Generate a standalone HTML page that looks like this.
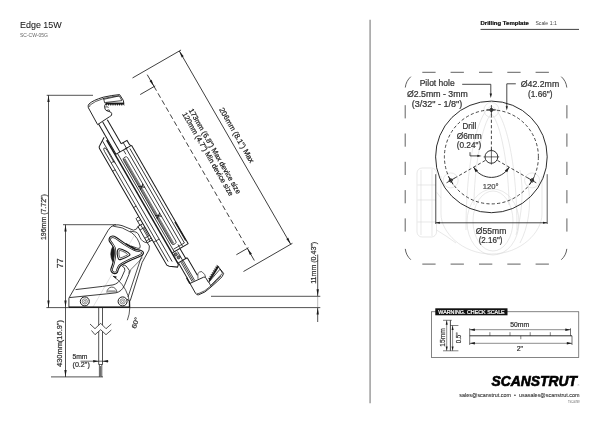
<!DOCTYPE html>
<html lang="en"><head><meta charset="utf-8"><title>Edge 15W – Drilling Template</title>
<style>
html,body{margin:0;padding:0;background:#fff;}
svg{display:block;will-change:transform;}
text{font-family:"Liberation Sans",Arial,sans-serif;}
</style></head>
<body>
<svg width="600" height="424" viewBox="0 0 600 424">
<rect width="600" height="424" fill="#fff"/>
<text x="20" y="27.5" font-size="8.9" fill="#1a1a1a" textLength="41.7" lengthAdjust="spacingAndGlyphs" stroke="#1a1a1a" stroke-width="0.08" >Edge 15W</text>
<text x="20" y="36.8" font-size="4.7" fill="#666" textLength="28" lengthAdjust="spacingAndGlyphs" >SC-CW-05G</text>
<line x1="370.1" y1="19.8" x2="370.1" y2="403.3" stroke="#a9a9a9" stroke-width="1.7" />
<text x="480.5" y="25.2" font-size="5.9" fill="#111" font-weight="bold" textLength="48.3" lengthAdjust="spacingAndGlyphs" stroke="#111" stroke-width="0.22" >Drilling Template</text>
<text x="535.4" y="25.2" font-size="5.6" fill="#444" textLength="21.4" lengthAdjust="spacingAndGlyphs" >Scale 1:1</text>
<line x1="480.5" y1="29.4" x2="579" y2="29.4" stroke="#2a2a2a" stroke-width="0.9" />
<line x1="46.7" y1="95.3" x2="93" y2="95.3" stroke="#1a1a1a" stroke-width="0.75" />
<line x1="48.5" y1="95.3" x2="48.5" y2="307.6" stroke="#1a1a1a" stroke-width="0.75" />
<polygon points="48.50,95.30 49.65,102.10 47.35,102.10" fill="#1a1a1a"/>
<polygon points="48.50,307.40 47.35,300.60 49.65,300.60" fill="#1a1a1a"/>
<text x="46.0" y="240" font-size="7.0" fill="#333" textLength="45.8" lengthAdjust="spacingAndGlyphs" transform="rotate(-90 46.0 240)" stroke="#333" stroke-width="0.22" >196mm (7.72")</text>
<line x1="46.4" y1="307.6" x2="320.3" y2="307.6" stroke="#1a1a1a" stroke-width="0.75" />
<line x1="63" y1="224.7" x2="116" y2="224.7" stroke="#1a1a1a" stroke-width="0.75" />
<line x1="65.5" y1="224.7" x2="65.5" y2="307.6" stroke="#1a1a1a" stroke-width="0.75" />
<polygon points="65.50,224.70 66.65,231.50 64.35,231.50" fill="#1a1a1a"/>
<polygon points="65.50,307.40 64.35,300.60 66.65,300.60" fill="#1a1a1a"/>
<text x="63.2" y="268.2" font-size="9" fill="#333" textLength="9.9" lengthAdjust="spacingAndGlyphs" transform="rotate(-90 63.2 268.2)" stroke="#333" stroke-width="0.22" >77</text>
<line x1="65.5" y1="307.6" x2="65.5" y2="376.9" stroke="#1a1a1a" stroke-width="0.75" />
<polygon points="65.50,376.90 64.35,370.10 66.65,370.10" fill="#1a1a1a"/>
<line x1="51" y1="376.9" x2="103" y2="376.9" stroke="#1a1a1a" stroke-width="0.75" />
<text x="61.5" y="367" font-size="7.3" fill="#333" textLength="47" lengthAdjust="spacingAndGlyphs" transform="rotate(-90 61.5 367)" stroke="#333" stroke-width="0.22" >430mm(16.9")</text>
<line x1="98.7" y1="307" x2="98.7" y2="364.5" stroke="#1a1a1a" stroke-width="0.75" />
<line x1="102.5" y1="307" x2="102.5" y2="364.5" stroke="#1a1a1a" stroke-width="0.75" />
<path d="M98.7,364.5 H102.5 M99.4,364.5 V376.8 M101.8,364.5 V376.8 M100.6,366 V376.5" stroke="#1a1a1a" stroke-width="0.7" fill="none" />
<polygon points="90,324 95,328.7 100.7,323.3 106,328.7 111.3,324 111.3,330 106,334.7 100.7,329.7 95,334.7 90.5,330" fill="#fff"/>
<path d="M90,324 L95,328.7 L100.7,323.3 L106,328.7 L111.3,324" stroke="#1a1a1a" stroke-width="0.75" fill="none" />
<path d="M91.5,330.5 L95,334.7 L100.7,329.7 L106,334.7 L111.3,330" stroke="#1a1a1a" stroke-width="0.75" fill="none" />
<line x1="80.5" y1="361.2" x2="108.5" y2="361.2" stroke="#1a1a1a" stroke-width="0.65" />
<polygon points="98.70,361.20 93.20,362.40 93.20,360.00" fill="#1a1a1a"/>
<polygon points="102.50,361.20 108.00,360.00 108.00,362.40" fill="#1a1a1a"/>
<text x="72.5" y="358.8" font-size="6.8" fill="#333" textLength="15" lengthAdjust="spacingAndGlyphs" stroke="#333" stroke-width="0.22" >5mm</text>
<text x="72.5" y="367" font-size="7.0" fill="#333" textLength="17.3" lengthAdjust="spacingAndGlyphs" stroke="#333" stroke-width="0.22" >(0.2")</text>
<line x1="211" y1="296.3" x2="320.3" y2="296.3" stroke="#1a1a1a" stroke-width="0.75" />
<line x1="317.7" y1="254.5" x2="317.7" y2="296.3" stroke="#1a1a1a" stroke-width="0.75" />
<line x1="317.7" y1="307.6" x2="317.7" y2="322" stroke="#1a1a1a" stroke-width="0.75" />
<line x1="317.7" y1="296.3" x2="317.7" y2="307.6" stroke="#777" stroke-width="0.5" />
<polygon points="317.70,296.10 316.55,289.30 318.85,289.30" fill="#1a1a1a"/>
<polygon points="317.70,307.80 318.85,314.60 316.55,314.60" fill="#1a1a1a"/>
<text x="316.0" y="283.8" font-size="7.0" fill="#333" textLength="42" lengthAdjust="spacingAndGlyphs" transform="rotate(-90 316.0 283.8)" stroke="#333" stroke-width="0.22" >11mm (0.43")</text>
<g transform="translate(179.3,51) rotate(60.04)">
<line x1="0" y1="0" x2="223.1" y2="0" stroke="#1a1a1a" stroke-width="0.75" />
<polygon points="0.00,0.00 6.80,-1.15 6.80,1.15" fill="#1a1a1a"/>
<polygon points="223.10,0.00 216.30,1.15 216.30,-1.15" fill="#1a1a1a"/>
<line x1="0" y1="-2" x2="0" y2="54" stroke="#1a1a1a" stroke-width="0.75" />
<line x1="223.1" y1="-2" x2="223.1" y2="54.5" stroke="#1a1a1a" stroke-width="0.75" />
<text x="70.4" y="-5.2" font-size="7.5" fill="#222" textLength="62.3" lengthAdjust="spacingAndGlyphs" stroke="#222" stroke-width="0.22" >206mm (8.1") Max</text>
<line x1="17.9" y1="39.6" x2="205.2" y2="39.6" stroke="#1a1a1a" stroke-width="0.75" stroke-dasharray="5.1 3.0"/>
<line x1="4.5" y1="39.6" x2="18.2" y2="39.6" stroke="#1a1a1a" stroke-width="0.75" />
<polygon points="17.90,39.60 11.10,40.75 11.10,38.45" fill="#1a1a1a"/>
<line x1="205.0" y1="39.6" x2="219" y2="39.6" stroke="#1a1a1a" stroke-width="0.75" />
<polygon points="205.20,39.60 212.00,38.45 212.00,40.75" fill="#1a1a1a"/>
<line x1="18.2" y1="38.3" x2="18.2" y2="55.6" stroke="#1a1a1a" stroke-width="0.75" />
<line x1="205.0" y1="38.3" x2="205.0" y2="52.3" stroke="#1a1a1a" stroke-width="0.75" />
<text x="55.8" y="21.7" font-size="7.3" fill="#222" textLength="97.2" lengthAdjust="spacingAndGlyphs" stroke="#222" stroke-width="0.22" >173mm (6.8") Max device size</text>
<text x="55.8" y="29.2" font-size="7.3" fill="#222" textLength="95.4" lengthAdjust="spacingAndGlyphs" stroke="#222" stroke-width="0.22" >120mm (4.7") Min device size</text>
</g>
<g transform="translate(100,100) rotate(60)" fill="none" stroke-linecap="butt">
<line x1="20" y1="13.2" x2="55" y2="13.2" stroke="#1a1a1a" stroke-width="1.0" />
<line x1="20.5" y1="8.7" x2="55" y2="8.7" stroke="#1a1a1a" stroke-width="1.0" />
<line x1="20.7" y1="3.5" x2="48.5" y2="3.5" stroke="#1a1a1a" stroke-width="1.0" />
<path d="M55,2.9 V-0.5 M48.5,3.5 V-3.2 H53.5 L55.5,-4.4" stroke="#1a1a1a" stroke-width="1.0" fill="none" />
<path d="M48.5,1.2 H55" stroke="#1a1a1a" stroke-width="0.78" fill="none" />
<path d="M55,13.6 V-4.5" stroke="#1a1a1a" stroke-width="1.0" fill="none" />
<path d="M55.3,-4.6 H168.5" stroke="#1a1a1a" stroke-width="1.0" fill="none" />
<path d="M57,-1.6 H166" stroke="#1a1a1a" stroke-width="0.78" fill="none" />
<path d="M55,1.6 H168" stroke="#1a1a1a" stroke-width="0.78" fill="none" />
<path d="M55,4.7 H60 M168,4.7 H164" stroke="#1a1a1a" stroke-width="0.72" fill="none" />
<path d="M143,-4 H164.5" stroke="#1a1a1a" stroke-width="1.3" fill="none" />
<path d="M168.5,-4.6 V13.6" stroke="#1a1a1a" stroke-width="1.0" fill="none" />
<path d="M166,-1.6 V11" stroke="#1a1a1a" stroke-width="0.72" fill="none" />
<path d="M38,14.2 H181.3" stroke="#1a1a1a" stroke-width="1.5" fill="none" />
<path d="M55,11.6 H168" stroke="#1a1a1a" stroke-width="0.78" fill="none" />
<path d="M64,4.9 H160 Q162,4.9 162,6.5 V8.2 Q162,9.8 160,9.8 H64 Q62,9.8 62,8.2 V6.5 Q62,4.9 64,4.9 Z" stroke="#1a1a1a" stroke-width="0.72" fill="none" />
<path d="M63,7.7 H161 M63,8.45 H161 M63,9.2 H161" stroke="#1a1a1a" stroke-width="0.52" fill="none" />
<path d="M94,4.6 L98,10 M98,4.6 L94,10 M127.5,4.6 L131.5,10 M131.5,4.6 L127.5,10" stroke="#1a1a1a" stroke-width="1.05" fill="none" />
<path d="M34.3,15 L39.5,23.2 Q40.3,24.7 42,24.7 H176.5 L178.5,23.2 L183.5,16.4 L181.3,14" stroke="#1a1a1a" stroke-width="1.0" fill="none" />
<path d="M37,18.3 H176" stroke="#1a1a1a" stroke-width="0.78" fill="none" />
<path d="M47,21.8 H174 M47,21.8 Q43.6,21.8 43.6,20.4 Q43.6,19 47,19 H62" stroke="#1a1a1a" stroke-width="0.75" fill="none" />
<path d="M60,18.3 V21.6 M68,21.6 V24.7 M110,21.6 V24.7 M150,18.3 V24.7" stroke="#1a1a1a" stroke-width="0.72" fill="none" />
<path d="M168.5,5 H180.2 V13.6" stroke="#1a1a1a" stroke-width="1.0" fill="none" />
<circle cx="171.6" cy="11.6" r="1.6" stroke="#1a1a1a" stroke-width="0.6" fill="#777"/>
<circle cx="175.6" cy="10.6" r="1.6" stroke="#1a1a1a" stroke-width="0.6" fill="#777"/>
<path d="M170,8.6 H180" stroke="#1a1a1a" stroke-width="0.78" fill="none" />
<path d="M180.2,3.3 H200.5 M180.2,3.3 V5" stroke="#1a1a1a" stroke-width="1.0" fill="none" />
<path d="M180.2,8.2 H203.6 M180.2,9.6 H203.6 M180.2,11 H203.4" stroke="#1a1a1a" stroke-width="0.72" fill="none" />
<path d="M181,13.5 H198" stroke="#1a1a1a" stroke-width="1.0" fill="none" />
<path d="M197.5,13.9 H204" stroke="#1a1a1a" stroke-width="1.5" fill="none" />
</g>
<path d="M97.6,124.6 L88.4,107.8 Q87.6,105.6 89,104 Q93,100.2 103.3,97.2 Q112,95.2 119.6,94.6 L123.4,100.5 L123.8,103.5" stroke="#1a1a1a" stroke-width="0.95" fill="none" />
<path d="M89.6,106.9 Q89.4,105.7 90.4,104.8 Q94.2,101.4 103.6,98.5 Q112,96.4 119.0,95.9" stroke="#1a1a1a" stroke-width="0.72" fill="none" />
<path d="M123.8,103.5 H106 Q104.2,105.4 104.6,107.5 Q105,110.2 107,110.8 L110.6,112 Q112.2,113.4 111.6,115 Q111,116.2 109.4,116.8 L97.6,124.6" stroke="#1a1a1a" stroke-width="0.95" fill="none" />
<path d="M103.4,98.0 L104.8,103.2 M103.7,99.3 L119.3,95.9 L121.9,100.6 L105.3,102.5" stroke="#1a1a1a" stroke-width="0.78" fill="none" />
<path d="M105.6,102.8 L123.9,102.8 L124.2,105.4 L122.9,103.9 L121.8,105.6 L120.7,103.9 L119.6,105.6 L118.5,103.9 L117.4,105.6 L116.3,103.9 L115.2,105.6 L114.1,103.9 L113.0,105.6 L111.9,103.9 L110.8,105.6 L109.7,103.9 L108.6,105.6 L107.5,103.9 L106.4,105.6 L105.9,104 Z" stroke="#1a1a1a" stroke-width="0.3" fill="#1a1a1a" />
<path d="M105.2,107.2 Q107,106.2 108.6,107.4 M106.6,110.6 Q108.4,109.2 110,110.6" stroke="#1a1a1a" stroke-width="0.78" fill="none" />
<path d="M187.2,278.4 L195.6,293.4 Q196.6,295.2 198.6,294.8 Q205,293 211,287 Q218,281 222.2,276.6 L223.6,273.4 L218.2,266.6" stroke="#1a1a1a" stroke-width="0.95" fill="none" />
<path d="M196.6,293.2 Q197.6,293.8 199,293.4 Q205,291.6 210.4,286.2 Q217,280.4 221.2,275.8" stroke="#1a1a1a" stroke-width="0.72" fill="none" />
<path d="M218.2,266.6 L209.4,280.6 Q209.6,282.4 208.4,282.2 L206,278.2 Q205.4,276.6 203.6,277.2 L190,283.4" stroke="#1a1a1a" stroke-width="0.95" fill="none" />
<path d="M198,278.8 L197.8,273.6 Q199.6,271.2 201.8,271.6 L204.6,274.4 L205.6,277" stroke="#1a1a1a" stroke-width="0.7" fill="none" />
<path d="M208.8,282 L211,286.4 M209.9,280.9 L220.1,269.1 L222.5,273.2 L210.7,285.5" stroke="#1a1a1a" stroke-width="0.78" fill="none" />
<path d="M218.99,266.67 L209.89,281.17 L208.96,280.59 L209.30,279.86 L208.45,278.02 L210.47,277.99 L209.62,276.16 L211.64,276.13 L210.79,274.29 L212.81,274.27 L211.95,272.43 L213.98,272.40 L213.12,270.57 L215.15,270.54 L214.29,268.70 L216.32,268.68 L215.46,266.84 L217.49,266.81 L216.63,264.98 L218.06,266.09 Z" stroke="#1a1a1a" stroke-width="0.3" fill="#1a1a1a" />
<line x1="93" y1="307" x2="136.5" y2="231.7" stroke="#b5b5b5" stroke-width="0.4" />
<g transform="translate(100,100) rotate(60)" fill="none">
<path d="M120.5,24.7 V27.2 Q120.5,28.1 121.4,28.1 H128.5" stroke="#1a1a1a" stroke-width="0.8" fill="none" />
<path d="M128.5,24.7 V30.4 H147.3 V24.7" stroke="#1a1a1a" stroke-width="0.85" fill="none" />
<path d="M124,24.7 V28.1 M132.6,24.7 V30.4 M142.1,24.7 V30.4 M145.2,24.7 V30.4 M128.5,27.2 H147.3 M132.6,26 H142.1" stroke="#1a1a1a" stroke-width="0.72" fill="none" />
</g>
<path d="M133.4,230.2 Q137.2,229.8 137.9,226.5" stroke="#1a1a1a" stroke-width="0.8" fill="none" />
<path d="M130,231.2 L135.9,232 Q138.6,233 139.9,237.3 Q142,242.2 147.3,242.8" stroke="#1a1a1a" stroke-width="0.8" fill="none" />
<path d="M70.6,295.1 L68.9,298.2 V307 H129.5 V300.8 L127,299.3" stroke="#1a1a1a" stroke-width="0.85" fill="none" />
<path d="M129.5,300.8 V307" stroke="#1a1a1a" stroke-width="1.3" fill="none" />
<path d="M68.9,307.3 H129.8" stroke="#1a1a1a" stroke-width="1.3" fill="none" />
<path d="M70.6,295.1 L108.2,230.2 Q110.4,226.2 114.5,225 Q118,224.3 122,225.6 L133.4,230.2" stroke="#1a1a1a" stroke-width="0.85" fill="none" />
<path d="M147.3,242.8 Q150.6,245.6 149,250 L145,257.2 L142.2,262.4 L130.2,300.8" stroke="#1a1a1a" stroke-width="0.85" fill="none" />
<path d="M143.4,253 L140.6,259 L128,297" stroke="#1a1a1a" stroke-width="0.78" fill="none" />
<path d="M113.2,226.2 Q122,226.4 131.5,232.6 Q138.5,238 140.2,246 Q140.6,249 138,248.4 L131,246" stroke="#1a1a1a" stroke-width="0.78" fill="none" />
<path d="M75.6,289.6 L102.5,286.4 L113,284.9 Q118.6,283.6 121.4,278 L124.8,270.4 Q125.4,267.4 122.4,266.4 Q124.6,263.6 127.2,267.4" stroke="#1a1a1a" stroke-width="0.85" fill="none" />
<path d="M69.4,297.6 L106.2,293.9 L116,292.8 Q121.6,291.6 124.4,285.6 L129,274.4 Q130.6,270.2 127.2,267.4" stroke="#1a1a1a" stroke-width="0.85" fill="none" />
<path d="M142.6,257.6 L131,269.4 L129.4,273.6" stroke="#1a1a1a" stroke-width="0.6" fill="none" />
<path d="M106.9,292.7 A5,5.4 0 0 1 116.9,292.3" stroke="#1a1a1a" stroke-width="0.7" fill="none" />
<path d="M108.2,290.9 H115.6 M107.6,291.9 H116.2" stroke="#555" stroke-width="0.7" fill="none" />
<circle cx="84.8" cy="301.4" r="4.5" fill="#fff" stroke="#1a1a1a" stroke-width="1.0"/>
<circle cx="84.8" cy="301.4" r="2.6" fill="none" stroke="#1a1a1a" stroke-width="0.5"/>
<circle cx="84.8" cy="301.4" r="1.1" fill="none" stroke="#1a1a1a" stroke-width="0.45"/>
<circle cx="122.6" cy="301.4" r="4.5" fill="#fff" stroke="#1a1a1a" stroke-width="1.0"/>
<circle cx="122.6" cy="301.4" r="2.6" fill="none" stroke="#1a1a1a" stroke-width="0.5"/>
<circle cx="122.6" cy="301.4" r="1.1" fill="none" stroke="#1a1a1a" stroke-width="0.45"/>
<path d="M113.04,276.14 A36.8,36.8 0 0 1 127.36,320.19" stroke="#1a1a1a" stroke-width="0.72" fill="none" />
<polygon points="112.44,275.64 116.71,276.41 115.78,278.41" fill="#1a1a1a"/>
<text x="135.8" y="329" font-size="6.6" fill="#333" textLength="11.5" lengthAdjust="spacingAndGlyphs" transform="rotate(-72 135.8 329)" stroke="#333" stroke-width="0.22" >60°</text>
<path d="M113.2,245.6 Q108.6,253.4 112.6,261.6 L114.4,258 L114.4,249 Z" stroke="#1a1a1a" stroke-width="0.6" fill="#1a1a1a" />
<clipPath id="knobclip"><path d="M109.20,240.80 C108.92,239.67 109.23,238.20 109.80,237.40 C110.37,236.60 111.57,236.03 112.60,236.00 C113.63,235.97 113.82,235.88 116.00,237.20 C118.18,238.52 122.58,241.95 125.70,243.90 C128.82,245.85 132.25,247.83 134.70,248.90 C137.15,249.97 138.98,249.77 140.40,250.30 C141.82,250.83 142.83,251.38 143.20,252.10 C143.57,252.82 143.27,253.82 142.60,254.60 C141.93,255.38 141.08,255.90 139.20,256.80 C137.32,257.70 133.93,258.80 131.30,260.00 C128.67,261.20 125.28,262.93 123.40,264.00 C121.52,265.07 120.85,265.47 120.00,266.40 C119.15,267.33 118.77,268.58 118.30,269.60 C117.83,270.62 117.87,271.83 117.20,272.50 C116.53,273.17 115.25,273.70 114.30,273.60 C113.35,273.50 112.07,272.65 111.50,271.90 C110.93,271.15 110.72,270.42 110.90,269.10 C111.08,267.78 112.12,265.80 112.60,264.00 C113.08,262.20 113.52,260.18 113.80,258.30 C114.08,256.42 114.30,254.40 114.30,252.70 C114.30,251.00 114.27,249.52 113.80,248.10 C113.33,246.68 112.27,245.42 111.50,244.20 C110.73,242.98 109.48,241.93 109.20,240.80 Z"/></clipPath>
<path d="M109.20,240.80 C108.92,239.67 109.23,238.20 109.80,237.40 C110.37,236.60 111.57,236.03 112.60,236.00 C113.63,235.97 113.82,235.88 116.00,237.20 C118.18,238.52 122.58,241.95 125.70,243.90 C128.82,245.85 132.25,247.83 134.70,248.90 C137.15,249.97 138.98,249.77 140.40,250.30 C141.82,250.83 142.83,251.38 143.20,252.10 C143.57,252.82 143.27,253.82 142.60,254.60 C141.93,255.38 141.08,255.90 139.20,256.80 C137.32,257.70 133.93,258.80 131.30,260.00 C128.67,261.20 125.28,262.93 123.40,264.00 C121.52,265.07 120.85,265.47 120.00,266.40 C119.15,267.33 118.77,268.58 118.30,269.60 C117.83,270.62 117.87,271.83 117.20,272.50 C116.53,273.17 115.25,273.70 114.30,273.60 C113.35,273.50 112.07,272.65 111.50,271.90 C110.93,271.15 110.72,270.42 110.90,269.10 C111.08,267.78 112.12,265.80 112.60,264.00 C113.08,262.20 113.52,260.18 113.80,258.30 C114.08,256.42 114.30,254.40 114.30,252.70 C114.30,251.00 114.27,249.52 113.80,248.10 C113.33,246.68 112.27,245.42 111.50,244.20 C110.73,242.98 109.48,241.93 109.20,240.80 Z" fill="#fff" stroke="none"/>
<g clip-path="url(#knobclip)"><path d="M109.20,240.80 C108.92,239.67 109.23,238.20 109.80,237.40 C110.37,236.60 111.57,236.03 112.60,236.00 C113.63,235.97 113.82,235.88 116.00,237.20 C118.18,238.52 122.58,241.95 125.70,243.90 C128.82,245.85 132.25,247.83 134.70,248.90 C137.15,249.97 138.98,249.77 140.40,250.30 C141.82,250.83 142.83,251.38 143.20,252.10 C143.57,252.82 143.27,253.82 142.60,254.60 C141.93,255.38 141.08,255.90 139.20,256.80 C137.32,257.70 133.93,258.80 131.30,260.00 C128.67,261.20 125.28,262.93 123.40,264.00 C121.52,265.07 120.85,265.47 120.00,266.40 C119.15,267.33 118.77,268.58 118.30,269.60 C117.83,270.62 117.87,271.83 117.20,272.50 C116.53,273.17 115.25,273.70 114.30,273.60 C113.35,273.50 112.07,272.65 111.50,271.90 C110.93,271.15 110.72,270.42 110.90,269.10 C111.08,267.78 112.12,265.80 112.60,264.00 C113.08,262.20 113.52,260.18 113.80,258.30 C114.08,256.42 114.30,254.40 114.30,252.70 C114.30,251.00 114.27,249.52 113.80,248.10 C113.33,246.68 112.27,245.42 111.50,244.20 C110.73,242.98 109.48,241.93 109.20,240.80 Z" fill="none" stroke="#1a1a1a" stroke-width="3.8"/><path d="M109.20,240.80 C108.92,239.67 109.23,238.20 109.80,237.40 C110.37,236.60 111.57,236.03 112.60,236.00 C113.63,235.97 113.82,235.88 116.00,237.20 C118.18,238.52 122.58,241.95 125.70,243.90 C128.82,245.85 132.25,247.83 134.70,248.90 C137.15,249.97 138.98,249.77 140.40,250.30 C141.82,250.83 142.83,251.38 143.20,252.10 C143.57,252.82 143.27,253.82 142.60,254.60 C141.93,255.38 141.08,255.90 139.20,256.80 C137.32,257.70 133.93,258.80 131.30,260.00 C128.67,261.20 125.28,262.93 123.40,264.00 C121.52,265.07 120.85,265.47 120.00,266.40 C119.15,267.33 118.77,268.58 118.30,269.60 C117.83,270.62 117.87,271.83 117.20,272.50 C116.53,273.17 115.25,273.70 114.30,273.60 C113.35,273.50 112.07,272.65 111.50,271.90 C110.93,271.15 110.72,270.42 110.90,269.10 C111.08,267.78 112.12,265.80 112.60,264.00 C113.08,262.20 113.52,260.18 113.80,258.30 C114.08,256.42 114.30,254.40 114.30,252.70 C114.30,251.00 114.27,249.52 113.80,248.10 C113.33,246.68 112.27,245.42 111.50,244.20 C110.73,242.98 109.48,241.93 109.20,240.80 Z" fill="none" stroke="#fff" stroke-width="2.3"/></g>
<path d="M109.20,240.80 C108.92,239.67 109.23,238.20 109.80,237.40 C110.37,236.60 111.57,236.03 112.60,236.00 C113.63,235.97 113.82,235.88 116.00,237.20 C118.18,238.52 122.58,241.95 125.70,243.90 C128.82,245.85 132.25,247.83 134.70,248.90 C137.15,249.97 138.98,249.77 140.40,250.30 C141.82,250.83 142.83,251.38 143.20,252.10 C143.57,252.82 143.27,253.82 142.60,254.60 C141.93,255.38 141.08,255.90 139.20,256.80 C137.32,257.70 133.93,258.80 131.30,260.00 C128.67,261.20 125.28,262.93 123.40,264.00 C121.52,265.07 120.85,265.47 120.00,266.40 C119.15,267.33 118.77,268.58 118.30,269.60 C117.83,270.62 117.87,271.83 117.20,272.50 C116.53,273.17 115.25,273.70 114.30,273.60 C113.35,273.50 112.07,272.65 111.50,271.90 C110.93,271.15 110.72,270.42 110.90,269.10 C111.08,267.78 112.12,265.80 112.60,264.00 C113.08,262.20 113.52,260.18 113.80,258.30 C114.08,256.42 114.30,254.40 114.30,252.70 C114.30,251.00 114.27,249.52 113.80,248.10 C113.33,246.68 112.27,245.42 111.50,244.20 C110.73,242.98 109.48,241.93 109.20,240.80 Z" fill="none" stroke="#1a1a1a" stroke-width="1.1"/>
<path d="M117.75,249.94 C118.14,249.01 118.27,248.50 119.65,248.71 C121.03,248.92 124.45,250.38 126.04,251.18 C127.63,251.98 128.65,252.78 129.17,253.53 C129.69,254.28 130.55,254.67 129.17,255.66 C127.79,256.65 122.67,258.94 120.88,259.46 C119.09,259.98 119.02,259.65 118.42,258.79 C117.82,257.93 117.41,255.78 117.30,254.31 C117.19,252.84 117.36,250.87 117.75,249.94 Z" stroke="#1a1a1a" stroke-width="1.1" fill="#fff" />
<path d="M119.20,251.06 C119.42,250.43 119.35,250.28 120.32,250.50 C121.29,250.72 123.87,251.79 125.03,252.41 C126.19,253.03 126.94,253.75 127.27,254.20 C127.60,254.65 128.09,254.50 127.04,255.10 C126.00,255.70 122.23,257.41 121.00,257.78 C119.77,258.15 119.99,257.92 119.65,257.34 C119.31,256.76 119.06,255.36 118.98,254.31 C118.91,253.26 118.98,251.69 119.20,251.06 Z" stroke="#1a1a1a" stroke-width="0.72" fill="none" />
<path d="M126,243.2 L135.5,248.6 L134.6,249.8 L125.6,244.6 Z" stroke="#1a1a1a" stroke-width="0.3" fill="#1a1a1a" />
<g stroke="#d9d9d9" stroke-width="0.6" fill="none">
<rect x="417" y="168" width="19.5" height="69" rx="5"/>
<path d="M421,170 V235 M432,169 V236 M417.5,185 H436 M417.5,200 H436 M417.5,222 H436"/>
<path d="M441,176 V214 C441,232 462,254 491.5,254 C521,254 542,232 542,214 V176"/>
<path d="M436.5,192 L441,198 M436.5,230 L446,236 L456,243"/>
<ellipse cx="493" cy="221" rx="20" ry="30"/>
<ellipse cx="493" cy="222" rx="26" ry="33"/>
<path d="M466,230 C466,160 478,112 491.4,106 C505,112 517,160 517,230"/>
<path d="M474,205 C474,170 482,122 491.4,114 C501,122 509,170 509,205"/>
<path d="M520,170 C524,190 522,215 516,235 M528,185 C532,205 528,228 520,243"/>
<circle cx="491.4" cy="109.9" r="7.5"/>
<circle cx="532.1" cy="180.4" r="7.5"/>
<circle cx="450.7" cy="180.4" r="7.5"/>
</g>
<line x1="422.3" y1="72.3" x2="435.6" y2="72.3" stroke="#444" stroke-width="0.85" />
<line x1="422.3" y1="264.1" x2="435.6" y2="264.1" stroke="#444" stroke-width="0.85" />
<line x1="450.6" y1="72.3" x2="463.9" y2="72.3" stroke="#444" stroke-width="0.85" />
<line x1="450.6" y1="264.1" x2="463.9" y2="264.1" stroke="#444" stroke-width="0.85" />
<line x1="479.0" y1="72.3" x2="492.3" y2="72.3" stroke="#444" stroke-width="0.85" />
<line x1="479.0" y1="264.1" x2="492.3" y2="264.1" stroke="#444" stroke-width="0.85" />
<line x1="507.3" y1="72.3" x2="520.6" y2="72.3" stroke="#444" stroke-width="0.85" />
<line x1="507.3" y1="264.1" x2="520.6" y2="264.1" stroke="#444" stroke-width="0.85" />
<line x1="535.6" y1="72.3" x2="548.9" y2="72.3" stroke="#444" stroke-width="0.85" />
<line x1="535.6" y1="264.1" x2="548.9" y2="264.1" stroke="#444" stroke-width="0.85" />
<line x1="405.2" y1="105.2" x2="405.2" y2="118.4" stroke="#444" stroke-width="0.85" />
<line x1="566.9" y1="105.2" x2="566.9" y2="118.4" stroke="#444" stroke-width="0.85" />
<line x1="405.2" y1="133.5" x2="405.2" y2="146.7" stroke="#444" stroke-width="0.85" />
<line x1="566.9" y1="133.5" x2="566.9" y2="146.7" stroke="#444" stroke-width="0.85" />
<line x1="405.2" y1="161.8" x2="405.2" y2="175.0" stroke="#444" stroke-width="0.85" />
<line x1="566.9" y1="161.8" x2="566.9" y2="175.0" stroke="#444" stroke-width="0.85" />
<line x1="405.2" y1="190.1" x2="405.2" y2="203.3" stroke="#444" stroke-width="0.85" />
<line x1="566.9" y1="190.1" x2="566.9" y2="203.3" stroke="#444" stroke-width="0.85" />
<line x1="405.2" y1="218.4" x2="405.2" y2="231.6" stroke="#444" stroke-width="0.85" />
<line x1="566.9" y1="218.4" x2="566.9" y2="231.6" stroke="#444" stroke-width="0.85" />
<path d="M405.29,87.52 A17,17 0 0 1 410.82,76.67" stroke="#444" stroke-width="0.85" fill="none" />
<path d="M561.28,76.67 A17,17 0 0 1 566.81,87.52" stroke="#444" stroke-width="0.85" fill="none" />
<path d="M405.29,248.88 A17,17 0 0 0 410.82,259.73" stroke="#444" stroke-width="0.85" fill="none" />
<path d="M566.81,248.88 A17,17 0 0 1 561.28,259.73" stroke="#444" stroke-width="0.85" fill="none" />
<circle cx="491.4" cy="156.9" r="55.8" fill="none" stroke="#222" stroke-width="0.95"/>
<circle cx="491.4" cy="156.9" r="47" fill="none" stroke="#1a1a1a" stroke-width="0.8" stroke-dasharray="3.2 2.2"/>
<circle cx="491.4" cy="156.9" r="6.4" fill="none" stroke="#1a1a1a" stroke-width="0.9"/>
<line x1="491.4" y1="149" x2="491.4" y2="164.6" stroke="#1a1a1a" stroke-width="0.65" />
<line x1="483.6" y1="156.9" x2="499.2" y2="156.9" stroke="#1a1a1a" stroke-width="0.65" />
<line x1="491.4" y1="149.9" x2="491.4" y2="109.9" stroke="#1a1a1a" stroke-width="0.8" stroke-dasharray="3.2 2.2"/>
<g transform="translate(491.40,109.90) rotate(0)">
<circle r="1.6" fill="#999" stroke="#1a1a1a" stroke-width="0.8"/>
<path d="M-4.8,0 H4.8 M0,-4.8 V4.8" stroke="#1a1a1a" stroke-width="0.75"/>
</g>
<line x1="497.46" y1="160.4" x2="532.1" y2="180.4" stroke="#1a1a1a" stroke-width="0.8" stroke-dasharray="3.2 2.2"/>
<g transform="translate(532.10,180.40) rotate(120)">
<circle r="1.6" fill="#999" stroke="#1a1a1a" stroke-width="0.8"/>
<path d="M-4.8,0 H4.8 M0,-4.8 V4.8" stroke="#1a1a1a" stroke-width="0.75"/>
</g>
<line x1="485.34" y1="160.4" x2="450.7" y2="180.4" stroke="#1a1a1a" stroke-width="0.8" stroke-dasharray="3.2 2.2"/>
<g transform="translate(450.70,180.40) rotate(240)">
<circle r="1.6" fill="#999" stroke="#1a1a1a" stroke-width="0.8"/>
<path d="M-4.8,0 H4.8 M0,-4.8 V4.8" stroke="#1a1a1a" stroke-width="0.75"/>
</g>
<path d="M473.65,167.15 A20.5,20.5 0 0 0 509.15,167.15" stroke="#1a1a1a" stroke-width="0.9" fill="none" />
<polygon points="473.65,167.15 477.97,170.40 475.58,172.21" fill="#1a1a1a"/>
<polygon points="509.15,167.15 507.22,172.21 504.83,170.40" fill="#1a1a1a"/>
<text x="482.8" y="188.8" font-size="8.0" fill="#4a4a4a" textLength="15.8" lengthAdjust="spacingAndGlyphs" stroke="#4a4a4a" stroke-width="0.22" >120°</text>
<text x="419.7" y="86.3" font-size="8.4" fill="#333" textLength="35" lengthAdjust="spacingAndGlyphs" stroke="#333" stroke-width="0.22" >Pilot hole</text>
<text x="407" y="96.7" font-size="8.4" fill="#333" textLength="60.8" lengthAdjust="spacingAndGlyphs" stroke="#333" stroke-width="0.22" >Ø2.5mm - 3mm</text>
<text x="411.7" y="106.7" font-size="8.4" fill="#333" textLength="50.5" lengthAdjust="spacingAndGlyphs" stroke="#333" stroke-width="0.22" >(3/32" - 1/8")</text>
<path d="M462.2,84.3 H490.8 V94" stroke="#1a1a1a" stroke-width="0.8" fill="none" />
<polygon points="490.80,98.00 489.60,93.40 492.00,93.40" fill="#1a1a1a"/>
<text x="520.8" y="86.7" font-size="8.4" fill="#333" textLength="38.4" lengthAdjust="spacingAndGlyphs" stroke="#333" stroke-width="0.22" >Ø42.2mm</text>
<text x="528" y="96.7" font-size="8.4" fill="#333" textLength="24.5" lengthAdjust="spacingAndGlyphs" stroke="#333" stroke-width="0.22" >(1.66")</text>
<path d="M515.8,83.8 H506.8 V107" stroke="#1a1a1a" stroke-width="0.8" fill="none" />
<polygon points="506.80,110.40 505.70,106.20 507.90,106.20" fill="#1a1a1a"/>
<text x="462.5" y="128.7" font-size="8.4" fill="#333" textLength="13.8" lengthAdjust="spacingAndGlyphs" stroke="#333" stroke-width="0.22" >Drill</text>
<text x="456.7" y="138.8" font-size="8.4" fill="#333" textLength="25" lengthAdjust="spacingAndGlyphs" stroke="#333" stroke-width="0.22" >Ø6mm</text>
<text x="456.7" y="148.3" font-size="8.4" fill="#333" textLength="24.6" lengthAdjust="spacingAndGlyphs" stroke="#333" stroke-width="0.22" >(0.24")</text>
<path d="M470,152.2 V155.9 H478" stroke="#1a1a1a" stroke-width="0.8" fill="none" />
<polygon points="481.60,155.90 477.40,157.10 477.40,154.70" fill="#1a1a1a"/>
<line x1="435.7" y1="174.2" x2="435.7" y2="224" stroke="#1a1a1a" stroke-width="0.7" />
<line x1="547.2" y1="174.2" x2="547.2" y2="224" stroke="#1a1a1a" stroke-width="0.7" />
<line x1="435.7" y1="222.8" x2="547.2" y2="222.8" stroke="#1a1a1a" stroke-width="0.8" />
<polygon points="435.70,222.80 439.90,221.80 439.90,223.80" fill="#1a1a1a"/>
<polygon points="547.20,222.80 543.00,223.80 543.00,221.80" fill="#1a1a1a"/>
<text x="475.8" y="233.7" font-size="8.4" fill="#333" textLength="30.5" lengthAdjust="spacingAndGlyphs" stroke="#333" stroke-width="0.22" >Ø55mm</text>
<text x="478.7" y="243.3" font-size="8.4" fill="#333" textLength="23.8" lengthAdjust="spacingAndGlyphs" stroke="#333" stroke-width="0.22" >(2.16")</text>
<rect x="431.6" y="311.8" width="147.2" height="45.5" fill="none" stroke="#333" stroke-width="0.6"/>
<rect x="435.3" y="308.3" width="72.2" height="7" fill="#111"/>
<text x="438.3" y="314.1" font-size="5.5" fill="#fff" textLength="66.4" lengthAdjust="spacingAndGlyphs" stroke="#fff" stroke-width="0.22" >WARNING. CHECK SCALE</text>
<line x1="443" y1="320.3" x2="451.8" y2="320.3" stroke="#1a1a1a" stroke-width="0.55" />
<line x1="443" y1="350.8" x2="458.4" y2="350.8" stroke="#1a1a1a" stroke-width="0.55" />
<line x1="446.7" y1="320.3" x2="446.7" y2="350.8" stroke="#1a1a1a" stroke-width="0.5" />
<polygon points="446.70,320.30 447.70,324.70 445.70,324.70" fill="#1a1a1a"/>
<polygon points="446.70,350.80 445.70,346.40 447.70,346.40" fill="#1a1a1a"/>
<line x1="450.4" y1="320.3" x2="450.4" y2="350.8" stroke="#1a1a1a" stroke-width="0.8" />
<line x1="450.4" y1="325.5" x2="458.4" y2="325.5" stroke="#1a1a1a" stroke-width="0.55" />
<line x1="452.6" y1="325.5" x2="452.6" y2="350.8" stroke="#1a1a1a" stroke-width="0.5" />
<polygon points="452.60,325.50 453.60,329.90 451.60,329.90" fill="#1a1a1a"/>
<polygon points="452.60,350.80 451.60,346.40 453.60,346.40" fill="#1a1a1a"/>
<text x="444.6" y="346.7" font-size="6.7" fill="#333" textLength="18.4" lengthAdjust="spacingAndGlyphs" transform="rotate(-90 444.6 346.7)" stroke="#333" stroke-width="0.22" >15mm</text>
<text x="460.8" y="343.3" font-size="6.4" fill="#333" textLength="10.8" lengthAdjust="spacingAndGlyphs" transform="rotate(-90 460.8 343.3)" stroke="#333" stroke-width="0.22" >0.5"</text>
<line x1="469.7" y1="328.3" x2="469.7" y2="345" stroke="#1a1a1a" stroke-width="0.6" />
<line x1="469.7" y1="335.8" x2="572" y2="335.8" stroke="#1a1a1a" stroke-width="0.9" />
<line x1="469.7" y1="329.7" x2="570.5" y2="329.7" stroke="#1a1a1a" stroke-width="0.5" />
<polygon points="469.70,329.70 474.90,328.45 474.90,330.95" fill="#1a1a1a"/>
<polygon points="570.50,329.70 565.30,330.95 565.30,328.45" fill="#1a1a1a"/>
<line x1="570.5" y1="328.3" x2="570.5" y2="335.8" stroke="#1a1a1a" stroke-width="0.6" />
<line x1="469.7" y1="343.3" x2="572" y2="343.3" stroke="#1a1a1a" stroke-width="0.5" />
<polygon points="469.70,343.30 474.90,342.05 474.90,344.55" fill="#1a1a1a"/>
<polygon points="572.00,343.30 566.80,344.55 566.80,342.05" fill="#1a1a1a"/>
<line x1="572" y1="335.8" x2="572" y2="345" stroke="#1a1a1a" stroke-width="0.6" />
<line x1="489.9" y1="332.2" x2="489.9" y2="335.8" stroke="#1a1a1a" stroke-width="0.55" />
<line x1="510.0" y1="332.2" x2="510.0" y2="335.8" stroke="#1a1a1a" stroke-width="0.55" />
<line x1="530.2" y1="332.2" x2="530.2" y2="335.8" stroke="#1a1a1a" stroke-width="0.55" />
<line x1="550.3" y1="332.2" x2="550.3" y2="335.8" stroke="#1a1a1a" stroke-width="0.55" />
<line x1="520.8" y1="335.8" x2="520.8" y2="339.2" stroke="#1a1a1a" stroke-width="0.55" />
<text x="510.3" y="327" font-size="6.8" fill="#333" textLength="18.9" lengthAdjust="spacingAndGlyphs" stroke="#333" stroke-width="0.22" >50mm</text>
<text x="516.7" y="350.5" font-size="6.8" fill="#333" textLength="6.3" lengthAdjust="spacingAndGlyphs" stroke="#333" stroke-width="0.22" >2"</text>
<text x="491.5" y="386.1" font-size="14.3" fill="#000" font-weight="bold" font-style="italic" textLength="85.6" lengthAdjust="spacingAndGlyphs" stroke="#000" stroke-width="0.65" >SCANSTRUT</text>
<text x="577.6" y="386" font-size="2.4" fill="#000" >®</text>
<text x="459.3" y="396.6" font-size="5.4" fill="#333" textLength="120.2" lengthAdjust="spacingAndGlyphs" stroke="#333" stroke-width="0.1" style="white-space:pre">sales@scanstrut.com  •  usasales@scanstrut.com</text>
<text x="568.0" y="402.9" font-size="2.9" fill="#555" textLength="11.6" lengthAdjust="spacingAndGlyphs" >TSC-00769</text>
</svg>
</body></html>
